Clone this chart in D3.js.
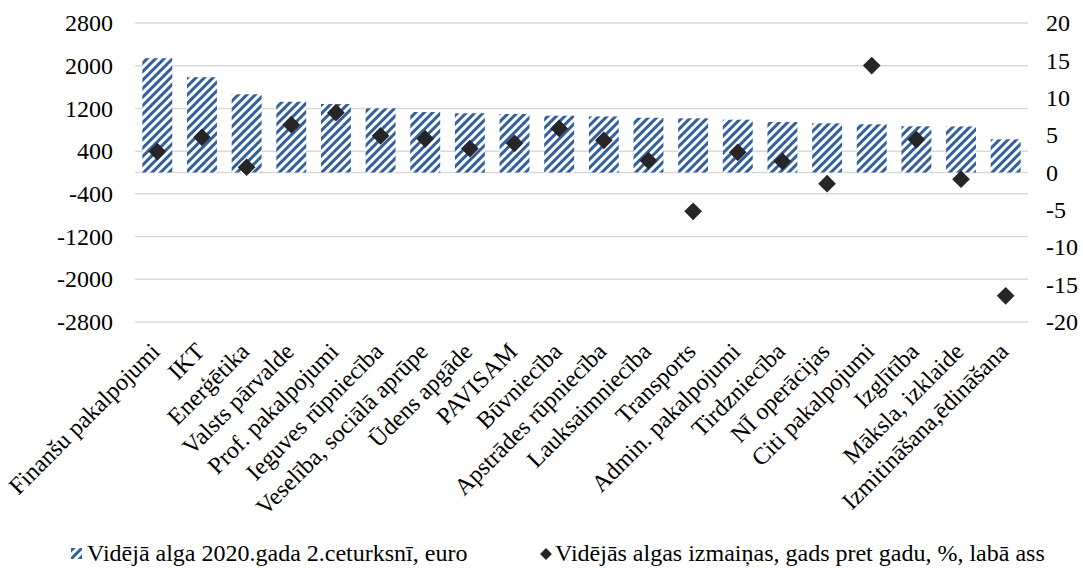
<!DOCTYPE html>
<html lang="en">
<head>
    <meta charset="utf-8">
    <title>Vidējā alga pa nozarēm</title>
    <style>
        body { margin: 0; background: #fff; }
        text { font-family: "Liberation Serif", "Times New Roman", serif; fill: #000; }
    </style>
</head>
<body>
    <svg id="chart"></svg>
    <script src="https://cdn.jsdelivr.net/npm/d3@7/dist/d3.min.js"></script>
    <script>
        var categories = ["Finanšu pakalpojumi", "IKT", "Enerģētika", "Valsts pārvalde", "Prof. pakalpojumi",
            "Ieguves rūpniecība", "Veselība, sociālā aprūpe", "Ūdens apgāde", "PAVISAM", "Būvniecība",
            "Apstrādes rūpniecība", "Lauksaimniecība", "Transports", "Admin. pakalpojumi", "Tirdzniecība",
            "NĪ operācijas", "Citi pakalpojumi", "Izglītība", "Māksla, izklaide", "Izmitināšana,ēdināšana"];
        var wages = [2140, 1785, 1465, 1325, 1283, 1202, 1133, 1109, 1096, 1064,
            1050, 1026, 1015, 989, 946, 921, 903, 865, 862, 622];
        var change = [2.8, 4.7, 0.7, 6.4, 8.0, 4.9, 4.5, 3.2, 3.9, 5.9,
            4.3, 1.6, -5.2, 2.7, 1.5, -1.5, 14.3, 4.4, -0.9, -16.5];
        var leftTicks = [2800, 2000, 1200, 400, -400, -1200, -2000, -2800];
        var rightTicks = [20, 15, 10, 5, 0, -5, -10, -15, -20];
        var legendLabels = ["Vidējā alga 2020.gada 2.ceturksnī, euro",
            "Vidējās algas izmaiņas, gads pret gadu, %, labā ass"];

        var w = 1083, h = 568;
        var pLeft = 135, pRight = 1028, pTop = 23, pBottom = 322;
        var barColor = "#31609c", dotColor = "#262626", gridColor = "#d9d9d9";

        var svg = d3.select("#chart").attr("width", w).attr("height", h);

        var defs = svg.append("defs");
        var pat = defs.append("pattern")
            .attr("id", "hatch")
            .attr("patternUnits", "userSpaceOnUse")
            .attr("width", 6)
            .attr("height", 6)
            .attr("patternTransform", "rotate(45)");
        pat.append("rect").attr("width", 6).attr("height", 6).attr("fill", "#fff");
        pat.append("rect").attr("width", 3).attr("height", 6).attr("fill", barColor);

        var x = d3.scaleBand().domain(categories).range([pLeft, pRight]).paddingInner(0.33).paddingOuter(0.165);
        var yL = d3.scaleLinear().domain([-2800, 2800]).range([pBottom, pTop]);
        var yR = d3.scaleLinear().domain([-20, 20]).range([pBottom, pTop]);
        var plain = function(d) { return String(d); };

        // gridlines
        svg.append("g")
            .selectAll("line")
            .data(leftTicks)
            .enter()
            .append("line")
            .attr("x1", pLeft).attr("x2", pRight)
            .attr("y1", function(d) { return yL(d); })
            .attr("y2", function(d) { return yL(d); })
            .attr("stroke", gridColor)
            .attr("stroke-width", 1.5);

        // zero line
        svg.append("line")
            .attr("x1", pLeft).attr("x2", pRight)
            .attr("y1", yL(0)).attr("y2", yL(0))
            .attr("stroke", gridColor)
            .attr("stroke-width", 1.5);

        // bars
        svg.append("g")
            .selectAll("rect")
            .data(wages)
            .enter()
            .append("rect")
            .attr("x", function(d, i) { return x(categories[i]); })
            .attr("y", function(d) { return yL(Math.max(0, d)); })
            .attr("width", x.bandwidth())
            .attr("height", function(d) { return Math.abs(yL(d) - yL(0)); })
            .attr("fill", "url(#hatch)");

        // diamonds
        svg.append("g")
            .selectAll("path")
            .data(change)
            .enter()
            .append("path")
            .attr("d", d3.symbol().type(d3.symbolDiamond2).size(200))
            .attr("transform", function(d, i) {
                return "translate(" + (x(categories[i]) + x.bandwidth() / 2) + "," + yR(d) + ")";
            })
            .attr("fill", dotColor);

        // left axis
        var axL = svg.append("g")
            .attr("transform", "translate(" + (pLeft - 22) + ",0)")
            .call(d3.axisLeft(yL).tickValues(leftTicks).tickFormat(plain).tickSize(0).tickPadding(0));
        axL.select(".domain").remove();

        // right axis
        var axR = svg.append("g")
            .attr("transform", "translate(" + (pRight + 18) + ",0)")
            .call(d3.axisRight(yR).tickValues(rightTicks).tickFormat(plain).tickSize(0).tickPadding(0));
        axR.select(".domain").remove();

        svg.selectAll(".tick text")
            .attr("font-family", "Liberation Serif")
            .attr("font-size", "24px")
            .attr("fill", "#000");

        // category labels
        svg.append("g")
            .selectAll("text")
            .data(categories)
            .enter()
            .append("text")
            .attr("text-anchor", "end")
            .attr("font-size", "24px")
            .attr("transform", function(d) {
                var cx = x(d) + x.bandwidth() / 2 + 4;
                return "translate(" + cx + "," + (pBottom + 31) + ") rotate(-45)";
            })
            .text(function(d) { return d; });

        // legend
        var leg = svg.append("g");
        leg.append("rect")
            .attr("x", 71).attr("y", 548)
            .attr("width", 11).attr("height", 11)
            .attr("fill", "url(#hatch)");
        leg.append("text")
            .attr("x", 87).attr("y", 561)
            .attr("font-size", "24px")
            .text(legendLabels[0]);
        leg.append("path")
            .attr("d", d3.symbol().type(d3.symbolDiamond2).size(90))
            .attr("transform", "translate(546,554)")
            .attr("fill", dotColor);
        leg.append("text")
            .attr("x", 555).attr("y", 561)
            .attr("font-size", "24px")
            .text(legendLabels[1]);
    </script>
</body>
</html>
